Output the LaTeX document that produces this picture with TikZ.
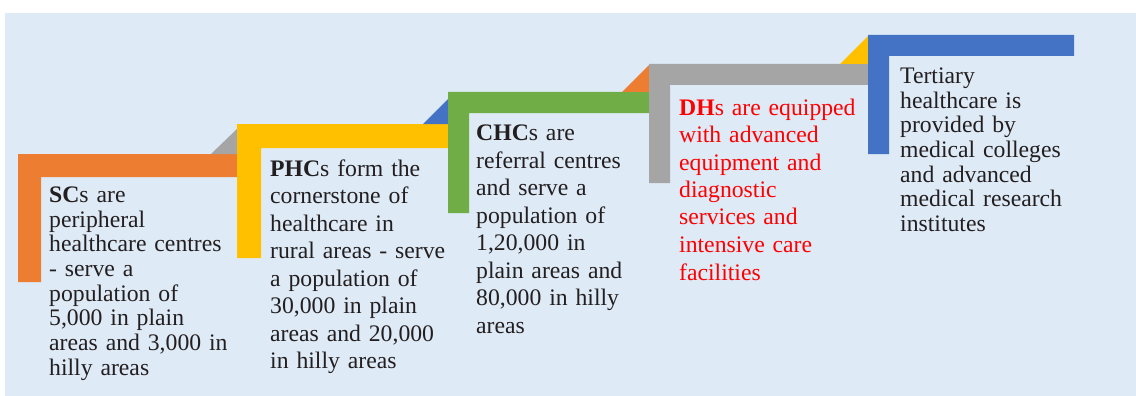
\documentclass[tikz,border=0pt]{standalone}
\usepackage{fontspec}
\setmainfont{Liberation Serif}
\definecolor{bgblue}{HTML}{DEEAF6}
\definecolor{corange}{HTML}{ED7D31}
\definecolor{cgray}{HTML}{A5A5A5}
\definecolor{cyellow}{HTML}{FFC000}
\definecolor{cblue}{HTML}{4472C4}
\definecolor{cgreen}{HTML}{70AD47}
\definecolor{ink}{HTML}{231F20}
\definecolor{inkred}{HTML}{FF0000}
\begin{document}
\begin{tikzpicture}[x=1pt,y=-1pt,
  txt/.style={anchor=base west, inner sep=0pt, align=left, text width=210pt, text=ink},
  tight/.style={font=\fontsize{23.7}{24.7}\selectfont},
  loose/.style={font=\fontsize{23.7}{27.5}\selectfont}]
\useasboundingbox (0,0) rectangle (1136,396);
\fill[bgblue] (5,13) rectangle (1136,396);
% step 1 orange
\fill[corange] (18,154) -- (237,154) -- (237,177) -- (41,177) -- (41,282) -- (18,282) -- cycle;
\fill[cgray] (211,154) -- (237,154) -- (237,129) -- cycle;
% step 2 yellow
\fill[cyellow] (237,124) -- (448,124) -- (448,148) -- (261,148) -- (261,258) -- (237,258) -- cycle;
\fill[cblue] (423,124) -- (448,124) -- (448,99) -- cycle;
% step 3 green
\fill[cgreen] (448,92) -- (649,92) -- (649,113) -- (469,113) -- (469,213) -- (448,213) -- cycle;
\fill[corange] (622,92) -- (649,92) -- (649,65) -- cycle;
% step 4 gray
\fill[cgray] (649,64) -- (868,64) -- (868,85) -- (670,85) -- (670,183) -- (649,183) -- cycle;
\fill[cyellow] (840,64) -- (868,64) -- (868,36) -- cycle;
% step 5 blue
\fill[cblue] (868,35) -- (1074,35) -- (1074,56) -- (889,56) -- (889,154) -- (868,154) -- cycle;
% texts
\node[txt, tight] (sc) at (49,202.3) {\textbf{SC}s are\\peripheral\\healthcare centres\\- serve a\\population of\\5,000 in plain\\areas and 3,000 in\\hilly areas};
\node[txt, loose] (phc) at (270,176) {\textbf{PHC}s form the\\cornerstone of\\healthcare in\\rural areas - serve\\a population of\\30,000 in plain\\areas and 20,000\\in hilly areas};
\node[txt, loose] (chc) at (476,140.7) {\textbf{CHC}s are\\referral centres\\and serve a\\population of\\1,20,000 in\\plain areas and\\80,000 in hilly\\areas};
\node[txt, loose, text=inkred] (dh) at (679,115) {\textbf{DH}s are equipped\\with advanced\\equipment and\\diagnostic\\services and\\intensive care\\facilities};
\node[txt, tight] (th) at (900,83.3) {Tertiary\\healthcare is\\provided by\\medical colleges\\and advanced\\medical research\\institutes};
\end{tikzpicture}
\end{document}
